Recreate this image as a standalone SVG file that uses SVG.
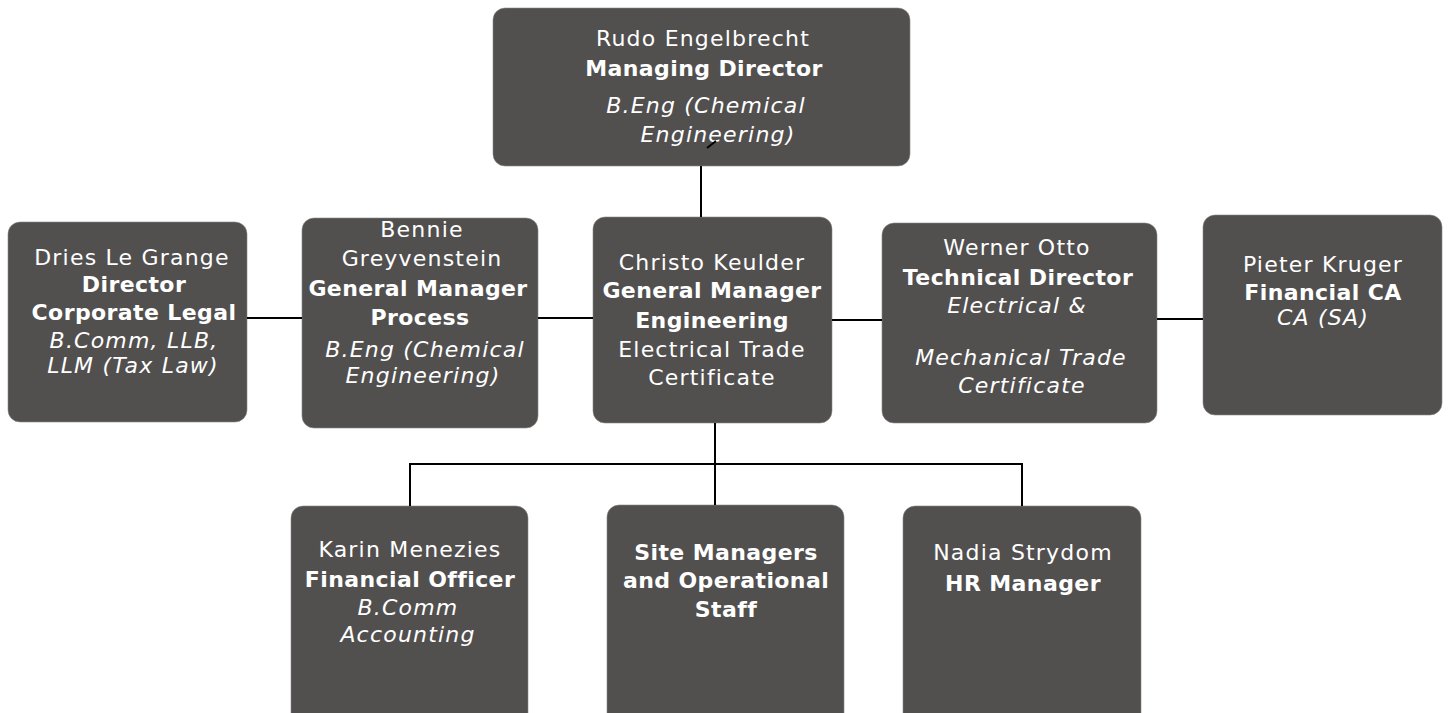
<svg xmlns="http://www.w3.org/2000/svg" width="1448" height="713" viewBox="0 0 1448 713">
<style>
.box{fill:#52504f;stroke:#8a8886;stroke-width:0.6}
text{font-family:"DejaVu Sans","Verdana",sans-serif;font-size:22px;fill:#ffffff;text-anchor:middle;letter-spacing:1.2px}
.b{font-weight:bold;letter-spacing:0.4px}
.i{font-style:italic}
.con{stroke:#000;stroke-width:2;fill:none}
</style>
<rect width="1448" height="713" fill="#ffffff"/>
<g id="rudo">
<rect class="box" x="493" y="8" width="417" height="158" rx="12"/>
<text x="703" y="46">Rudo Engelbrecht</text>
<text class="b" x="704" y="76">Managing Director</text>
<text class="i" x="706" y="113">B.Eng (Chemical</text>
<text class="i" x="718" y="142">Engineering)</text>
</g>
<g id="dries">
<rect class="box" x="8" y="222" width="239" height="200" rx="12"/>
<text x="132" y="265">Dries Le Grange</text>
<text class="b" x="134" y="292">Director</text>
<text class="b" x="134" y="320">Corporate Legal</text>
<text class="i" x="134" y="348">B.Comm, LLB,</text>
<text class="i" x="133" y="373">LLM (Tax Law)</text>
</g>
<g id="bennie">
<rect class="box" x="302" y="218" width="236" height="210" rx="12"/>
<text x="422" y="237">Bennie</text>
<text x="422" y="266">Greyvenstein</text>
<text class="b" x="418" y="296">General Manager</text>
<text class="b" x="420" y="325">Process</text>
<text class="i" x="425" y="357">B.Eng (Chemical</text>
<text class="i" x="423" y="383">Engineering)</text>
</g>
<g id="christo">
<rect class="box" x="593" y="217" width="239" height="206" rx="12"/>
<text x="712" y="270">Christo Keulder</text>
<text class="b" x="712" y="298">General Manager</text>
<text class="b" x="712" y="328">Engineering</text>
<text x="712" y="357">Electrical Trade</text>
<text x="712" y="385">Certificate</text>
</g>
<g id="werner">
<rect class="box" x="882" y="223" width="275" height="200" rx="12"/>
<text x="1017" y="255">Werner Otto</text>
<text class="b" x="1018" y="285">Technical Director</text>
<text class="i" x="1017" y="313">Electrical &amp;</text>
<text class="i" x="1021" y="365">Mechanical Trade</text>
<text class="i" x="1022" y="393">Certificate</text>
</g>
<g id="pieter">
<rect class="box" x="1203" y="215" width="239" height="200" rx="12"/>
<text x="1323" y="272">Pieter Kruger</text>
<text class="b" x="1323" y="300">Financial CA</text>
<text class="i" x="1323" y="325">CA (SA)</text>
</g>
<g id="karin">
<rect class="box" x="291" y="506" width="237" height="220" rx="12"/>
<text x="410" y="557">Karin Menezies</text>
<text class="b" x="410" y="587">Financial Officer</text>
<text class="i" x="408" y="615">B.Comm</text>
<text class="i" x="408" y="642">Accounting</text>
</g>
<g id="site">
<rect class="box" x="607" y="505" width="237" height="220" rx="12"/>
<text class="b" x="726" y="560">Site Managers</text>
<text class="b" x="726" y="588">and Operational</text>
<text class="b" x="726" y="617">Staff</text>
</g>
<g id="nadia">
<rect class="box" x="903" y="506" width="238" height="220" rx="12"/>
<text x="1023" y="560">Nadia Strydom</text>
<text class="b" x="1023" y="591">HR Manager</text>
</g>
<g id="connectors">
<line class="con" x1="701" y1="166" x2="701" y2="217"/>
<line class="con" x1="247" y1="318" x2="302" y2="318"/>
<line class="con" x1="538" y1="318" x2="593" y2="318"/>
<line class="con" x1="832" y1="320" x2="882" y2="320"/>
<line class="con" x1="1157" y1="319" x2="1203" y2="319"/>
<line class="con" x1="715" y1="423" x2="715" y2="505"/>
<polyline class="con" points="410,506 410,464 1022,464 1022,506"/>
<line class="con" x1="707" y1="148" x2="716" y2="141"/>
</g>
</svg>
